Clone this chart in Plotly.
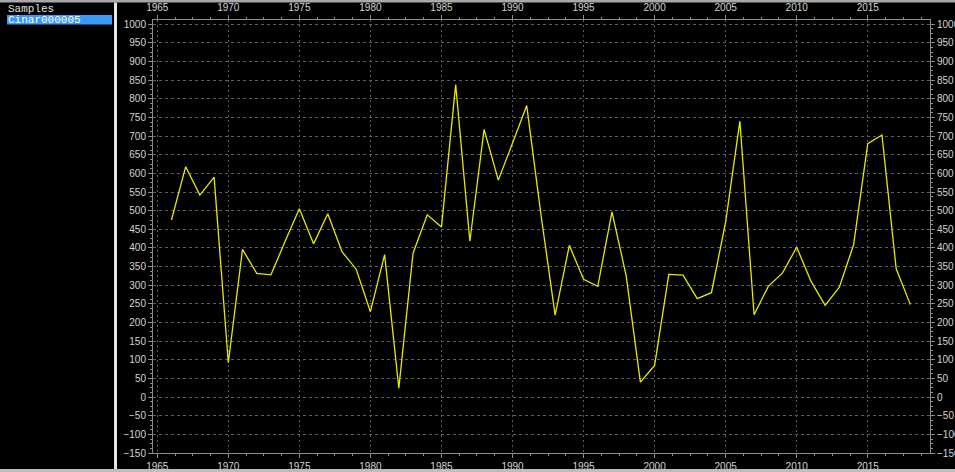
import plotly.graph_objects as go

# ---- data ----
years = [1966, 1967, 1968, 1969, 1970, 1971, 1972, 1973, 1974, 1975,
         1976, 1977, 1978, 1979, 1980, 1981, 1982, 1983, 1984, 1985,
         1986, 1987, 1988, 1989, 1990, 1991, 1992, 1993, 1994, 1995,
         1996, 1997, 1998, 1999, 2000, 2001, 2002, 2003, 2004, 2005,
         2006, 2007, 2008, 2009, 2010, 2011, 2012, 2013, 2014, 2015,
         2016, 2017, 2018]
values = [475, 618, 542, 590, 92, 396, 332, 328, 418, 505,
          411, 492, 390, 343, 229, 382, 24, 386, 489, 456,
          838, 418, 718, 582, 681, 782, 490, 220, 407, 316,
          297, 497, 325, 40, 85, 329, 327, 264, 280, 470,
          740, 221, 297, 333, 402, 311, 246, 295, 408, 680,
          703, 344, 248]
sample_header = "Samples"
sample_names = ["Cinar000005"]

W, H = 955, 472
ML, MR, MT, MB = 153, 25, 20, 19
PW, PH = W - ML - MR, H - MT - MB


def pxx(x):
    return (x - ML) / PW


def pxy(y):
    return (H - MB - y) / PH


x_range = [1964.70, 2019.38]
y_range = [-150, 1011.5]

tick_font = dict(family="Liberation Sans, Arial, sans-serif", size=10, color="#d4d4d4")
axis_col = "#8c8c8c"
grid_col = "#5c5c5c"

fig = go.Figure()
fig.add_trace(go.Scatter(x=years, y=values, mode="lines",
                         line=dict(color="#e8e800", width=1.3),
                         xaxis="x", yaxis="y", showlegend=False,
                         name=sample_names[0]))
# invisible companion trace so the mirrored (top / right) axes are drawn
fig.add_trace(go.Scatter(x=years, y=values, mode="lines",
                         line=dict(color="rgba(0,0,0,0)", width=0),
                         xaxis="x2", yaxis="y2", showlegend=False,
                         hoverinfo="skip"))

common_x = dict(range=x_range, tickmode="linear", tick0=1965, dtick=5,
                tickfont=tick_font, showline=True, linecolor=axis_col,
                linewidth=1, ticks="outside", ticklen=4, tickcolor=axis_col,
                zeroline=False, automargin=False,
                minor=dict(dtick=1.25, ticks="outside", ticklen=2,
                           tickcolor=axis_col, showgrid=False))
common_y = dict(range=y_range, tickmode="linear", tick0=0, dtick=50,
                tickfont=tick_font, showline=True, linecolor=axis_col,
                linewidth=1, ticks="outside", ticklen=4, tickcolor=axis_col,
                zeroline=False, automargin=False,
                minor=dict(dtick=12.5, ticks="outside", ticklen=2,
                           tickcolor=axis_col, showgrid=False))

fig.update_layout(
    width=W, height=H, autosize=False,
    margin=dict(l=ML, r=MR, t=MT, b=MB, pad=0, autoexpand=False),
    paper_bgcolor="black", plot_bgcolor="black",
    showlegend=False,
    xaxis=dict(**common_x, showgrid=True, gridcolor=grid_col, gridwidth=1,
               griddash="2px,3px", side="bottom", anchor="y"),
    xaxis2=dict(**common_x, showgrid=False, side="top", overlaying="x",
                anchor="y"),
    yaxis=dict(**common_y, showgrid=True, gridcolor=grid_col, gridwidth=1,
               griddash="3px,3px", side="left", anchor="x"),
    yaxis2=dict(**common_y, showgrid=False, side="right", overlaying="y",
                anchor="x"),
)

shapes = [
    # top strip
    dict(type="rect", xref="paper", yref="paper", x0=pxx(0), x1=pxx(W),
         y0=pxy(2.5), y1=pxy(0), fillcolor="#a8a8a8", line=dict(width=0)),
    # bottom strip
    dict(type="rect", xref="paper", yref="paper", x0=pxx(0), x1=pxx(W),
         y0=pxy(H), y1=pxy(469), fillcolor="#bdbdbd", line=dict(width=0)),
    # separator between sample list and chart
    dict(type="rect", xref="paper", yref="paper", x0=pxx(114), x1=pxx(117),
         y0=pxy(469), y1=pxy(2.5), fillcolor="#e6e6e6", line=dict(width=0)),
    # highlighted sample row
    dict(type="rect", xref="paper", yref="paper", x0=pxx(7), x1=pxx(112),
         y0=pxy(24.5), y1=pxy(15), fillcolor="#3a99f7", line=dict(width=0)),
]
fig.update_layout(shapes=shapes)

mono = "Liberation Mono, DejaVu Sans Mono, monospace"
fig.add_annotation(text=sample_header, xref="paper", yref="paper",
                   x=pxx(6), y=pxy(8.5), xanchor="left", yanchor="middle",
                   showarrow=False, font=dict(family=mono, size=11, color="#e0e0e0"))
fig.add_annotation(text=sample_names[0], xref="paper", yref="paper",
                   x=pxx(6), y=pxy(19.8), xanchor="left", yanchor="middle",
                   showarrow=False, font=dict(family=mono, size=11, color="#ffffff"))

fig.write_html("out.html",
               config={"displayModeBar": False},
               post_script="document.body.style.margin='0';"
                           "document.body.style.overflow='hidden';")
